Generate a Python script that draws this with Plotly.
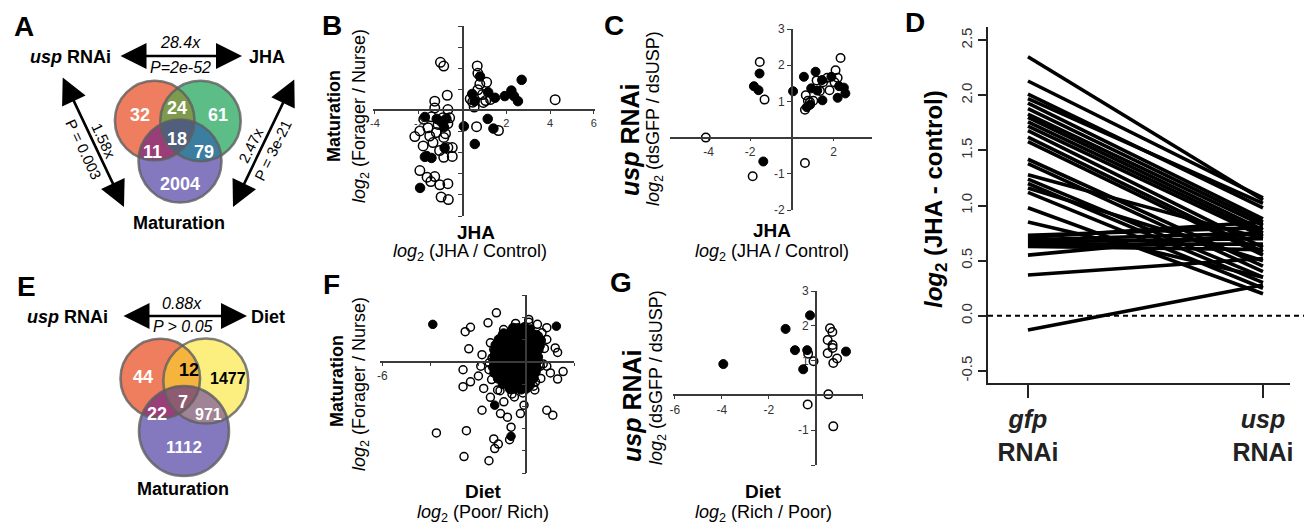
import numpy as np
import plotly.graph_objects as go

W, H = 1304, 524
FONT = "Liberation Sans, Arial, sans-serif"

# ---------------- DATA ----------------
# Venn A (usp RNAi / JHA / Maturation)
venn_a_counts = {"r": 32, "rg": 24, "g": 61, "rgp": 18, "rp": 11, "gp": 79, "p": 2004}
# Venn E (usp RNAi / Diet / Maturation)
venn_e_counts = {"r": 44, "ry": 12, "y": 1477, "ryp": 7, "rp": 22, "yp": 971, "p": 1112}

# Panel B : JHA (x) vs Maturation (y)
b_open_x = [-1.01, -0.86, -0.70, -1.27, -1.27, -2.18, -1.95, -1.77, -1.58, -1.50, -1.80, -1.35, -1.20, -1.12,
            -0.90, -0.67, -0.86, -0.67, -0.86, -0.47, -0.47, -1.95, -1.62, -1.45, -1.27, -1.04, -0.67, -0.98,
            -0.65, -0.59, -0.67, 0.67, 0.70, 0.79, 1.10, 0.91, 0.46, 0.53, 1.06, 0.64, 1.64, 4.23, 0.70,
            -1.42, -1.05, -0.78, 0.35, 0.95, 1.28]
b_open_y = [2.28, 2.10, 0.72, 0.44, 0.12, -1.24, -0.97, -0.42, -0.82, -1.21, -1.68, -1.52, -1.05, -0.66,
            -0.35, -0.62, -1.28, -1.76, -2.22, -2.18, -1.76, -2.85, -3.16, -3.37, -3.13, -3.52, -3.47, -4.10,
            -4.22, -0.35, 0.04, 2.11, 1.76, 1.25, 1.33, 0.75, 0.39, 0.16, 0.47, -0.77, -0.95, 0.51, 0.98,
            -0.30, -1.90, -1.10, 0.55, 0.38, 0.52]
b_fill_x = [-1.72, -1.64, -1.72, -1.42, -1.94, -1.18, -1.00, -0.85, -0.74, -0.90, -0.82, 0.06, 0.44, 0.80,
            0.55, 1.15, 1.41, 1.48, 1.93, 2.23, 2.35, 2.53, 2.70, 0.56, 1.17]
b_fill_y = [-0.31, -2.16, -2.20, -2.25, -3.67, -0.40, -0.52, -0.79, -0.39, -0.55, -1.77, -0.75, 0.78, 1.61,
            0.44, -0.40, -0.86, 0.60, 0.68, 0.94, 0.68, 0.44, 1.45, -1.59, 0.86]

# Panel C : JHA (x) vs usp RNAi (y)
c_open_x = [-4.13, -1.54, -1.31, -1.88, 0.63, 0.63, 0.67, 0.77, 1.19, 1.35, 1.50, 1.70, 1.81, 2.05, 2.10,
            2.34, 2.20, 0.87, 1.03]
c_open_y = [0.00, 2.09, 1.05, -1.07, -0.70, 0.77, 1.17, 1.02, 1.58, 1.29, 1.53, 1.65, 1.31, 1.53, 1.86,
            2.20, 1.65, 0.98, 1.02]
c_fill_x = [-1.82, -1.60, -1.55, -1.37, 0.06, 0.58, 0.72, 0.88, 0.93, 1.14, 1.22, 1.45, 1.47, 1.90, 2.20,
            2.27, 2.50, 2.57]
c_fill_y = [1.42, 1.31, 1.77, -0.66, 1.28, 1.68, 0.84, 0.91, 1.36, 1.82, 1.30, 1.59, 1.03, 1.68, 1.10,
            1.42, 1.38, 1.22]

# Panel D : log2(JHA - control), gfp RNAi vs usp RNAi
d_categories = ["gfp RNAi", "usp RNAi"]
d_gfp = [2.35, 2.13, 2.01, 1.97, 1.93, 1.88, 1.83, 1.80, 1.76, 1.72, 1.68, 1.62, 1.58, 1.42, 1.38, 1.28,
         1.24, 1.20, 1.16, 1.12, 0.98, 0.85, 0.73, 0.71, 0.69, 0.67, 0.65, 0.63, 0.55, 0.37, -0.13]
d_usp = [1.05, 1.07, 0.98, 1.02, 0.88, 0.85, 0.82, 0.78, 0.75, 0.72, 0.62, 0.58, 0.55, 0.45, 0.40, 0.70,
         0.35, 0.30, 0.50, 0.25, 0.20, 0.35, 0.80, 0.85, 0.75, 0.70, 0.65, 0.60, 0.75, 0.52, 0.28]
d_yticks = [-0.5, 0.0, 0.5, 1.0, 1.5, 2.0, 2.5]

# Panel F : Diet (x) vs Maturation (y)
f_open_x = [-1.25, -1.60, -2.33, -2.55, -2.40, -1.85, 0.10, 0.46, 0.85, 1.20, 1.30, 1.53, 1.30, 0.85, 1.10,
            -2.64, -2.33, -2.64, -1.78, -1.85, -1.50, -3.75, -2.50, -2.60, -1.56, -1.36, -1.17, -1.32, -0.70,
            -0.64, -0.25, -0.10, -0.79, -1.08, -0.35, 0.35, 0.38, -0.94, -0.50, -1.20, -1.56, -1.90, -2.00,
            -1.00, -0.70, -0.35, 0.50, 0.85, 0.85, 1.00, 0.58, -1.43, -1.36,
            -1.50, -1.55, -1.45, -0.95, -0.45, 0.10, 0.65, 0.75, 0.70, 0.60, 0.30, -0.15, -0.60, -1.10]
f_open_y = [2.20, 1.75, 1.55, 1.35, 0.58, 0.32, 1.90, 1.68, 1.53, 0.62, 0.42, -0.44, -0.78, -2.18, -2.40,
            -0.36, -0.90, -1.12, -1.20, -2.18, -1.60, -3.20, -3.10, -4.26, -4.45, -3.47, -3.70, -3.90, -3.50,
            -2.94, -2.33, -1.95, -2.49, -2.33, -1.12, -1.27, -0.90, -1.80, -1.58, -1.27, -0.36, -0.20, -0.64,
            1.20, 1.30, 1.53, 1.15, 1.00, -0.20, -0.50, -0.20, 0.17, 0.55,
            0.85, -0.05, -0.80, 1.45, 1.72, 1.78, 1.30, 0.60, -0.10, -0.75, -1.10, -1.40, -1.45, -1.30]
f_core_x = [-0.55, -0.30, -0.08, 0.15,
            -0.95, -0.72, -0.50, -0.27, -0.05, 0.18, 0.42,
            -1.15, -0.93, -0.70, -0.48, -0.25, -0.02, 0.20, 0.45, 0.60,
            -1.28, -1.05, -0.83, -0.60, -0.38, -0.15, 0.08, 0.30, 0.55,
            -1.30, -1.08, -0.85, -0.62, -0.40, -0.18, 0.05, 0.28, 0.50,
            -1.33, -1.10, -0.88, -0.65, -0.42, -0.20, 0.02, 0.25, 0.48,
            -1.35, -1.12, -0.90, -0.67, -0.45, -0.22, 0.00, 0.23, 0.46,
            -1.38, -1.15, -0.92, -0.70, -0.47, -0.25, -0.02, 0.20, 0.43,
            -1.33, -1.10, -0.88, -0.65, -0.42, -0.20, 0.03, 0.25, 0.38,
            -1.18, -0.95, -0.72, -0.50, -0.27, -0.05, 0.18, 0.30,
            -0.98, -0.75, -0.52, -0.30, -0.08, 0.15,
            -0.68, -0.45, -0.22, 0.00]
f_core_y = [1.52, 1.47, 1.55, 1.45,
            1.27, 1.22, 1.28, 1.24, 1.21, 1.26, 1.20,
            1.00, 1.03, 0.97, 1.02, 0.98, 1.04, 0.99, 1.01, 0.96,
            0.75, 0.78, 0.72, 0.77, 0.74, 0.79, 0.73, 0.76, 0.71,
            0.50, 0.47, 0.53, 0.49, 0.52, 0.46, 0.51, 0.48, 0.54,
            0.25, 0.28, 0.22, 0.27, 0.24, 0.29, 0.23, 0.26, 0.21,
            0.00, -0.03, 0.03, -0.01, 0.02, -0.04, 0.01, -0.02, 0.04,
            -0.25, -0.22, -0.28, -0.24, -0.27, -0.21, -0.26, -0.23, -0.29,
            -0.50, -0.53, -0.47, -0.52, -0.48, -0.54, -0.49, -0.51, -0.46,
            -0.75, -0.72, -0.78, -0.74, -0.77, -0.71, -0.76, -0.73,
            -1.00, -1.03, -0.97, -1.02, -0.98, -1.04,
            -1.22, -1.18, -1.24, -1.20]
f_fill_x = [-3.90, 1.25, -1.32, -0.64]
f_fill_y = [1.68, 1.60, -1.95, -3.35]

# Panel G : Diet (x) vs usp RNAi (y)
g_open_x = [-0.33, -0.10, 0.60, 0.70, 0.50, 0.71, 0.71, 0.50, 0.90, 0.74, 0.53, -0.35, 0.74]
g_open_y = [1.20, 0.98, 1.93, 1.82, 1.59, 1.45, 1.36, 1.21, 1.06, 0.93, 0.03, -0.26, -0.89]
g_fill_x = [-3.94, -1.29, -0.89, -0.25, -0.37, -0.54, 1.28]
g_fill_y = [0.90, 1.91, 1.30, 2.30, 1.30, 0.75, 1.26]


# ---------------- HELPERS ----------------
def px(x):
    return x / W


def py(y):
    return 1 - y / H


shapes, anns = [], []
AX = "#3a3a3a"


def txt(x, y, s, size=16, color="black", angle=0, xanchor="center", yanchor="middle"):
    anns.append(dict(x=px(x), y=py(y), xref="paper", yref="paper", text=s, showarrow=False,
                     font=dict(family=FONT, size=size, color=color), textangle=angle,
                     xanchor=xanchor, yanchor=yanchor))


def arrow(x0, y0, x1, y1):
    anns.append(dict(x=px(x1), y=py(y1), xref="paper", yref="paper", ax=x0 - x1, ay=y0 - y1,
                     axref="pixel", ayref="pixel", text="", showarrow=True,
                     arrowhead=2, startarrowhead=2, arrowside="end+start",
                     arrowsize=2.0, startarrowsize=2.0, arrowwidth=2.6, arrowcolor="black",
                     standoff=0, startstandoff=0))


def circle_pts(cx, cy, r, n=240):
    t = np.linspace(0, 2 * np.pi, n, endpoint=False)
    return np.c_[cx + r * np.cos(t), cy + r * np.sin(t)]


def region(circles):
    pts = []
    for i, (cx, cy, r) in enumerate(circles):
        P = circle_pts(cx, cy, r, 720)
        m = np.ones(len(P), bool)
        for j, (c2x, c2y, r2) in enumerate(circles):
            if j != i:
                m &= (P[:, 0] - c2x) ** 2 + (P[:, 1] - c2y) ** 2 <= r2 ** 2 + 1e-6
        pts.append(P[m])
    pts = np.vstack(pts)
    c = pts.mean(0)
    ang = np.arctan2(pts[:, 1] - c[1], pts[:, 0] - c[0])
    return pts[np.argsort(ang)]


def poly(pts, fill):
    path = "M " + " L ".join(f"{px(x):.5f},{py(y):.5f}" for x, y in pts) + " Z"
    shapes.append(dict(type="path", path=path, xref="paper", yref="paper", fillcolor=fill,
                       line=dict(width=0, color="rgba(0,0,0,0)")))


def venn(c1, c2, c3, cols):
    poly(circle_pts(*c1), cols[0])
    poly(circle_pts(*c2), cols[1])
    poly(region([c1, c2]), cols[2])
    poly(circle_pts(*c3), cols[3])
    poly(region([c1, c3]), cols[4])
    poly(region([c2, c3]), cols[5])
    poly(region([c1, c2, c3]), cols[6])
    for c in (c1, c2, c3):
        cx, cy, r = c
        shapes.append(dict(type="circle", xref="paper", yref="paper",
                           x0=px(cx - r), x1=px(cx + r), y0=py(cy + r), y1=py(cy - r),
                           line=dict(color="rgba(95,95,95,0.8)", width=2.6), fillcolor="rgba(0,0,0,0)"))


# ---------------- FIGURE ----------------
fig = go.Figure()


def pts_trace(x, y, ax, open_=True, size=9, lw=1.5):
    fig.add_trace(go.Scatter(
        x=x, y=y, mode="markers", xaxis=ax[0], yaxis=ax[1], showlegend=False, hoverinfo="skip",
        marker=dict(symbol="circle-open" if open_ else "circle", size=size, color="black",
                    line=dict(width=lw, color="black"))))


layout_axes = {}


def panel(n, xr, yr, left, right, top, bottom, xtv, xtt, ytv, ytt, xlen=3, ylen=4, fs=12):
    x0pix = left + (0 - xr[0]) / (xr[1] - xr[0]) * (right - left)
    y0pix = top + (yr[1] - 0) / (yr[1] - yr[0]) * (bottom - top)
    sfx = "" if n == 1 else str(n)
    layout_axes["xaxis" + sfx] = dict(
        domain=[px(left), px(right)], range=xr, anchor="free", position=py(y0pix),
        showline=True, linecolor=AX, linewidth=1.6, ticks="outside" if xlen else "", ticklen=xlen,
        tickwidth=1.4, tickcolor=AX, tickvals=xtv, ticktext=xtt, showgrid=False, zeroline=False,
        tickfont=dict(family=FONT, size=fs, color="#333"), fixedrange=True)
    layout_axes["yaxis" + sfx] = dict(
        domain=[py(bottom), py(top)], range=yr, anchor="free", position=px(x0pix),
        showline=True, linecolor=AX, linewidth=1.6, ticks="outside", ticklen=ylen,
        tickwidth=1.4, tickcolor=AX, tickvals=ytv, ticktext=ytt, showgrid=False, zeroline=False,
        tickfont=dict(family=FONT, size=fs, color="#333"), fixedrange=True)


# Panel B
panel(1, [-4.1, 6.05], [-5, 4], 372.8, 595.0, 26, 216,
      [-4, -2, 0, 2, 4, 6], ["-4", "-2", "", "2", "4", "6"],
      list(range(-5, 5)), [""] * 10, xlen=3, ylen=4, fs=11)
pts_trace(b_open_x, b_open_y, ("x", "y"), True, 9.5, 1.5)
pts_trace(b_fill_x, b_fill_y, ("x", "y"), False, 9.5, 1)

# Panel C
panel(2, [-5.85, 3.85], [-2, 3], 670, 872, 29, 210,
      [-4, -2, 0, 2], ["-4", "-2", "", "2"],
      [-2, -1, 0, 1, 2, 3], ["-2", "-1", "", "1", "2", "3"], xlen=3, ylen=4, fs=12)
pts_trace(c_open_x, c_open_y, ("x2", "y2"), True, 8.5, 1.5)
pts_trace(c_fill_x, c_fill_y, ("x2", "y2"), False, 9, 1)

# Panel F
panel(4, [-6.1, 2.0], [-5, 3], 380, 574.4, 295, 473,
      [-6, -4, -2, 0, 2], ["-6", "", "", "", ""],
      list(range(-5, 4)), [""] * 9, xlen=3, ylen=4, fs=12)
pts_trace(f_open_x, f_open_y, ("x4", "y4"), True, 8, 1.5)
pts_trace(f_core_x, f_core_y, ("x4", "y4"), False, 9.5, 1)
pts_trace(f_fill_x, f_fill_y, ("x4", "y4"), False, 8.5, 1)

# Panel G
panel(5, [-6.08, 2.0], [-2, 3], 673, 862.9, 291, 465,
      [-6, -4, -2, 0, 2], ["-6", "-4", "-2", "", ""],
      [-2, -1, 0, 1, 2, 3], ["", "-1", "", "1", "2", "3"], xlen=3, ylen=4, fs=12)
pts_trace(g_open_x, g_open_y, ("x5", "y5"), True, 8.5, 1.5)
pts_trace(g_fill_x, g_fill_y, ("x5", "y5"), False, 9, 1)

# Panel D
dx, dy = [], []
for a, b in zip(d_gfp, d_usp):
    dx += [0, 1, None]
    dy += [a, b, None]
fig.add_trace(go.Scatter(x=dx, y=dy, mode="lines", xaxis="x3", yaxis="y3", showlegend=False,
                         hoverinfo="skip", line=dict(color="black", width=3.6)))
layout_axes["xaxis3"] = dict(
    domain=[px(988), px(1290)], range=[-0.17, 1.115], anchor="y3", showline=True, linecolor="#222",
    linewidth=2, ticks="outside", ticklen=13, tickwidth=2, tickcolor="#222", tickvals=[0, 1],
    ticktext=["<b><i>gfp</i></b><br><b>RNAi</b>", "<b><i>usp</i></b><br><b>RNAi</b>"],
    tickfont=dict(family=FONT, size=25, color="#222"), showgrid=False, zeroline=False, fixedrange=True)
layout_axes["yaxis3"] = dict(
    domain=[py(383), py(27)], range=[-0.61, 2.62], anchor="x3", showline=True, linecolor="#222",
    linewidth=2, ticks="outside", ticklen=8, tickwidth=2, tickcolor="#222", tickvals=d_yticks,
    ticktext=[f"{v:.1f}" for v in d_yticks], tickangle=-90,
    tickfont=dict(family=FONT, size=15, color="#333"), showgrid=False, zeroline=False, fixedrange=True)
shapes.append(dict(type="line", xref="paper", yref="y3", x0=px(988), x1=1.0, y0=0, y1=0,
                   line=dict(color="black", width=2, dash="5px,4px"), layer="below"))

# ---------------- VENN A ----------------
venn((154.7, 120.5, 39.8), (200.5, 121.0, 40.2), (180.0, 161.0, 41.5),
     ["#EE7E5F", "#5DBD86", "#7E9A4E", "#8479BF", "#9A3E79", "#3B7EA0", "#4F5F7C"])
vpos_a = {"r": (140, 115), "rg": (177, 108), "g": (218, 115), "rgp": (177, 139), "rp": (152, 152),
          "gp": (204, 152), "p": (180, 184)}
for k, v in venn_a_counts.items():
    txt(*vpos_a[k], f"<b>{v}</b>", size=18, color="white")

txt(24, 26, "<b>A</b>", size=28)
txt(70, 57, "<b><i>usp</i> RNAi</b>", size=18)
txt(267, 57, "<b>JHA</b>", size=18)
txt(180, 43, "<i>28.4x</i>", size=16)
txt(180, 67, "<i>P=2e-52</i>", size=16)
arrow(119, 56, 242, 56)
arrow(62, 76, 124, 207)
txt(104, 140, "1.58x", size=15, angle=65)
txt(84, 149, "P = 0.003", size=15, angle=65)
arrow(295, 78, 233, 207)
txt(251, 146, "2.47x", size=15, angle=-64)
txt(273, 151, "P = 3e-21", size=15, angle=-64)
txt(179, 223, "<b>Maturation</b>", size=18)

# ---------------- VENN E ----------------
venn((160.3, 378.5, 39.8), (205.8, 381.0, 42.5), (184.0, 431.0, 45.0),
     ["#EF7E5F", "#FCEF80", "#F5B43E", "#8479BF", "#9A3E79", "#A08495", "#8E5C70"])
vpos_e = {"r": (143, 377), "ry": (189, 370), "y": (228, 378), "ryp": (183, 402), "rp": (157, 414),
          "yp": (208, 414), "p": (184, 447)}
vcol_e = {"r": "white", "ry": "black", "y": "black", "ryp": "white", "rp": "white", "yp": "white",
          "p": "white"}
vsz_e = {"r": 18, "ry": 18, "y": 16, "ryp": 18, "rp": 18, "yp": 16, "p": 17}
for k, v in venn_e_counts.items():
    txt(*vpos_e[k], f"<b>{v}</b>", size=vsz_e[k], color=vcol_e[k])

txt(26, 286, "<b>E</b>", size=28)
txt(67, 317, "<b><i>usp</i> RNAi</b>", size=18)
txt(268, 317, "<b>Diet</b>", size=18)
txt(182, 303, "<i>0.88x</i>", size=16)
txt(183, 326, "<i>P &gt; 0.05</i>", size=16)
arrow(122, 316, 247, 316)
txt(183, 489, "<b>Maturation</b>", size=18)

# ---------------- PANEL LABELS & TITLES ----------------
txt(332, 25, "<b>B</b>", size=28)
txt(334, 116, "<b>Maturation</b>", size=18, angle=-90)
txt(360, 116, "<i>log</i><sub>2</sub> (Forager / Nurse)", size=18, angle=-90)
txt(476, 232, "<b>JHA</b>", size=19)
txt(470, 252, "<i>log</i><sub>2</sub> (JHA / Control)", size=18)

txt(614, 25, "<b>C</b>", size=28)
txt(630, 140, "<b><i>usp</i> RNAi</b>", size=25, angle=-90)
txt(655, 119, "<i>log</i><sub>2</sub> (dsGFP / dsUSP)", size=18, angle=-90)
txt(772, 230, "<b>JHA</b>", size=19)
txt(772, 252, "<i>log</i><sub>2</sub> (JHA / Control)", size=18)

txt(915, 23, "<b>D</b>", size=28)
txt(935, 199, "<b><i>log</i><sub>2</sub> (JHA - control)</b>", size=24, angle=-90)

txt(332, 284, "<b>F</b>", size=28)
txt(337, 381, "<b>Maturation</b>", size=18, angle=-90)
txt(360, 384, "<i>log</i><sub>2</sub> (Forager / Nurse)", size=18, angle=-90)
txt(483, 491, "<b>Diet</b>", size=19)
txt(483, 513, "<i>log</i><sub>2</sub> (Poor/ Rich)", size=18)

txt(621, 282, "<b>G</b>", size=28)
txt(632, 406, "<b><i>usp</i> RNAi</b>", size=25, angle=-90)
txt(657, 378, "<i>log</i><sub>2</sub> (dsGFP / dsUSP)", size=18, angle=-90)
txt(764, 491, "<b>Diet</b>", size=19)
txt(764, 513, "<i>log</i><sub>2</sub> (Rich / Poor)", size=18)

fig.update_layout(
    width=W, height=H, margin=dict(l=0, r=0, t=0, b=0), autosize=False,
    paper_bgcolor="white", plot_bgcolor="rgba(0,0,0,0)", showlegend=False,
    template="none", font=dict(family=FONT, color="black"),
    shapes=shapes, annotations=anns, **layout_axes)

fig.write_html("out.html", config={"displayModeBar": False},
               post_script="document.body.style.margin='0';document.body.style.padding='0';")
